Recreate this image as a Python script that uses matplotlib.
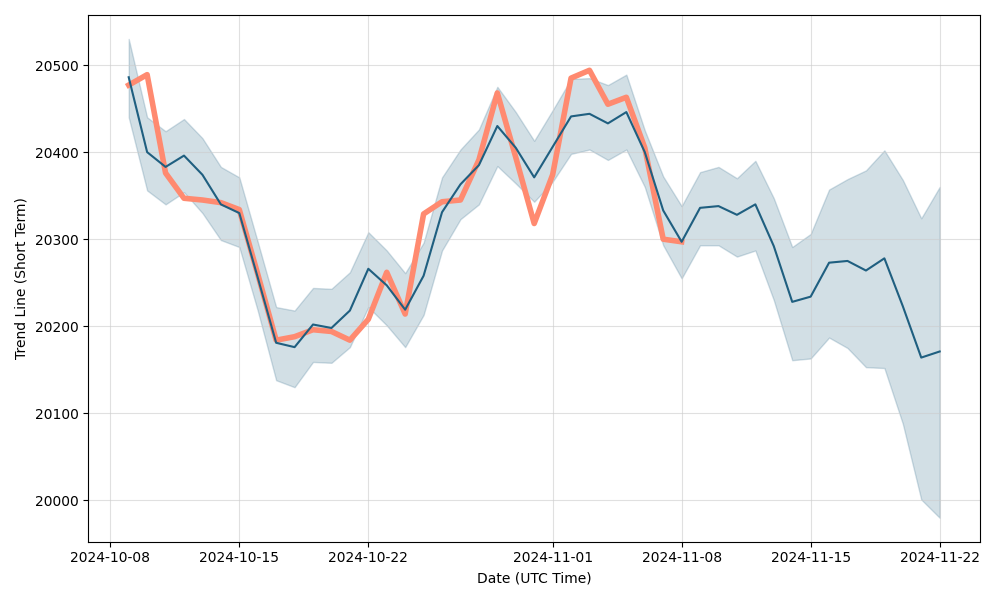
"""
Short-term trend line with confidence band vs. observed values.
"""
import matplotlib
matplotlib.use('Agg')
import matplotlib.pyplot as plt
import matplotlib.dates as mdates
import pandas as pd

dates = pd.date_range("2024-10-09", "2024-11-22", freq="D")

trend = [20486, 20400, 20383, 20396, 20374, 20340, 20330, 20256, 20181, 20176,
         20202, 20198, 20218, 20266, 20247, 20219, 20258, 20331, 20363, 20385,
         20430, 20405, 20371, 20406, 20441, 20444, 20433, 20446, 20400, 20333,
         20297, 20336, 20338, 20328, 20340, 20292, 20228, 20234, 20273, 20275,
         20264, 20278, 20223, 20164, 20171]

upper = [20530, 20440, 20424, 20438, 20416, 20383, 20371, 20297, 20222, 20218,
         20244, 20243, 20262, 20308, 20287, 20261, 20296, 20371, 20403, 20426,
         20475, 20446, 20413, 20448, 20484, 20485, 20477, 20489, 20425, 20372,
         20338, 20377, 20383, 20370, 20390, 20347, 20291, 20306, 20357, 20369,
         20379, 20402, 20368, 20324, 20360]

lower = [20440, 20356, 20340, 20354, 20330, 20299, 20291, 20218, 20138, 20130,
         20159, 20158, 20176, 20222, 20201, 20176, 20213, 20287, 20323, 20340,
         20384, 20364, 20343, 20366, 20398, 20403, 20391, 20403, 20360, 20293,
         20255, 20293, 20293, 20280, 20287, 20230, 20161, 20163, 20187, 20175,
         20153, 20152, 20088, 20001, 19980]

# observed values only run until 2024-11-08
actual = [20477, 20489, 20376, 20347, 20345, 20342, 20334, 20260, 20184, 20188,
          20196, 20194, 20184, 20208, 20262, 20214, 20329, 20343, 20345, 20391,
          20468, 20394, 20318, 20374, 20485, 20494, 20455, 20463, 20405, 20300,
          20297]

fig, ax = plt.subplots(figsize=(10, 6), dpi=100)
ax.fill_between(dates, lower, upper, color='#1f5f80', alpha=0.2, linewidth=1)
ax.plot(dates[:len(actual)], actual, color='#ff8a70', linewidth=4)
ax.plot(dates, trend, color='#1f5f80', linewidth=1.5)

ax.xaxis.set_major_locator(mdates.DayLocator(bymonthday=[1, 8, 15, 22]))
ax.xaxis.set_major_formatter(mdates.DateFormatter('%Y-%m-%d'))
ax.grid(True, color='#cccccc', alpha=0.6)
ax.set_xlabel("Date (UTC Time)")
ax.set_ylabel("Trend Line (Short Term)")
plt.tight_layout()
plt.savefig("out.png", dpi=100)
